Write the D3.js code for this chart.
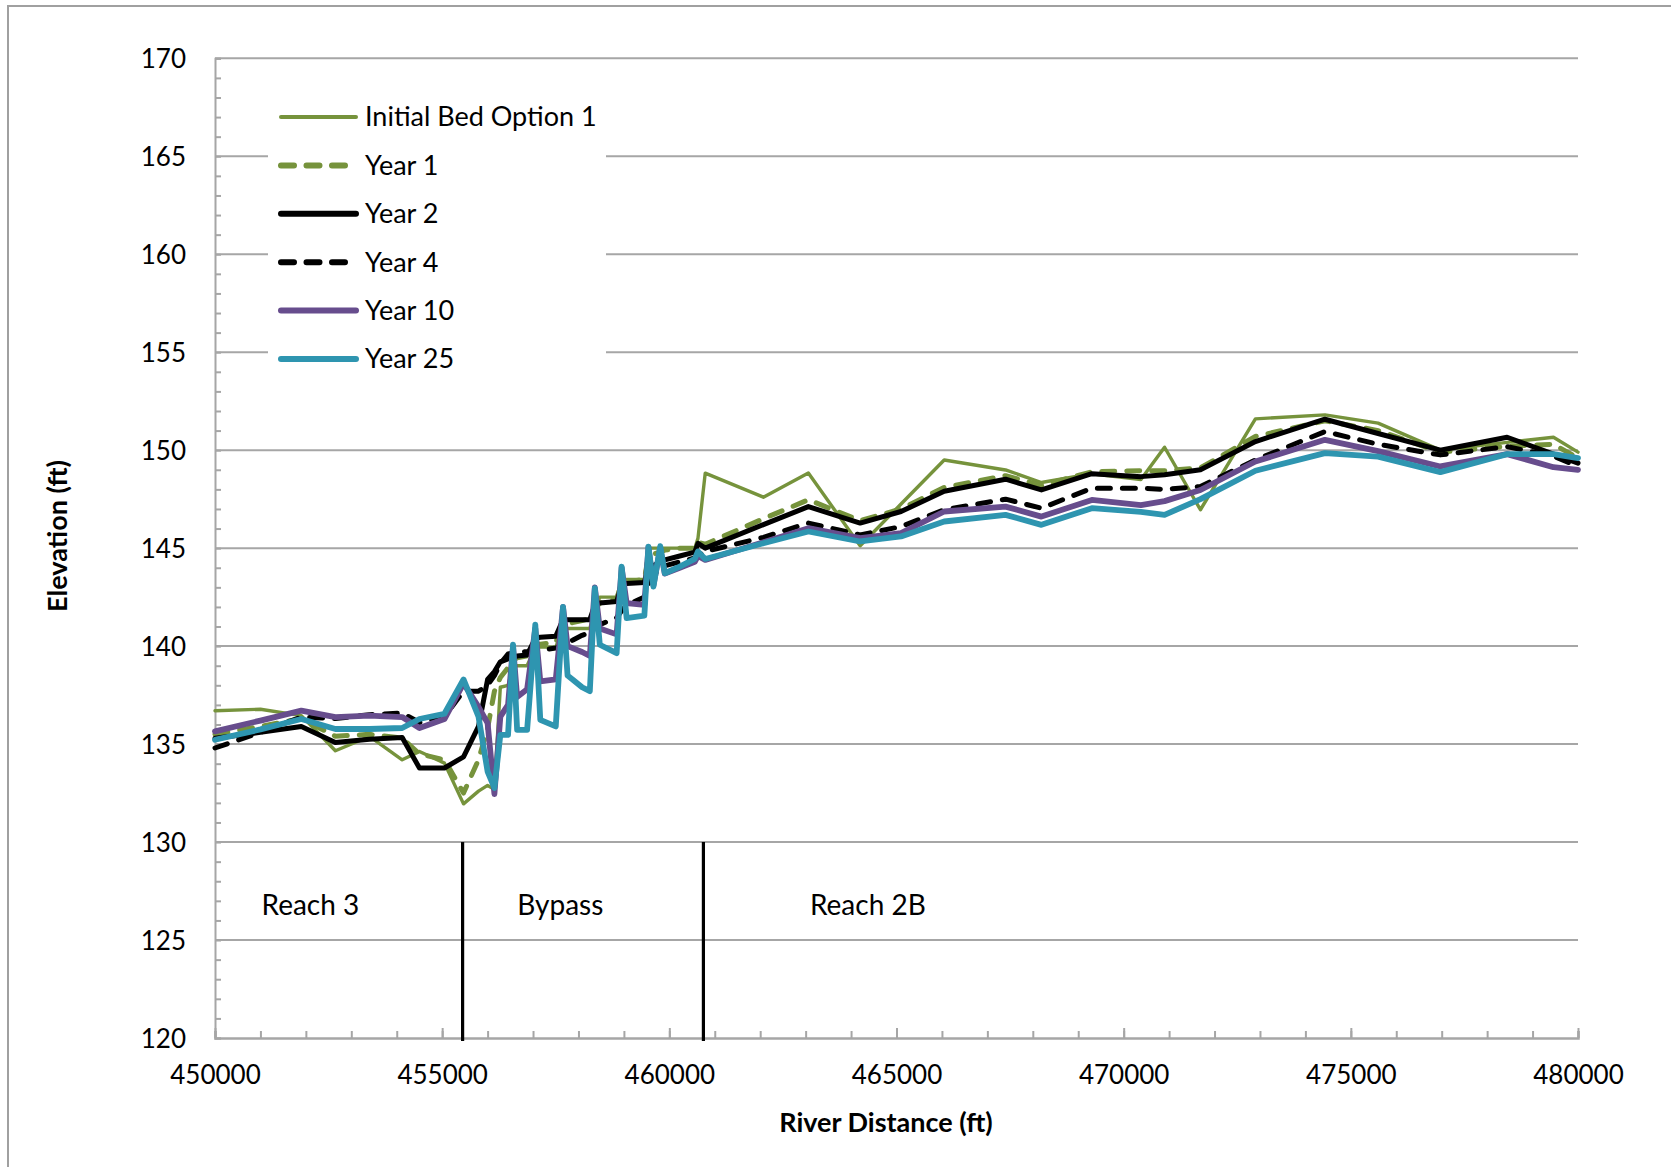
<!DOCTYPE html>
<html>
<head>
<meta charset="utf-8">
<script src="https://cdn.jsdelivr.net/npm/d3@7"></script>
<style>
  body { margin: 0; background: #fff; }
  text { font-family: Lato, "Open Sans", sans-serif; fill: #000; }
</style>
</head>
<body>
<div id="chart"></div>
<script>
// river stations (ft), shared by all series
const stations = [450000, 451000, 451900, 452650, 453400, 454120, 454500, 455050,
  455470, 455800, 456000, 456150, 456280, 456450, 456560, 456650, 456870, 457050, 457160, 457500,
  457660, 457760, 457870, 458080, 458250, 458360, 458470, 458840, 458950, 459060, 459450, 459540,
  459650, 459800, 459900, 460230, 460560, 460630,
  460790, 462070, 463060, 464200, 465100, 466050, 467400, 468190, 469300, 470380, 470900, 471690,
  472900, 474430, 475600, 476970, 478440, 479460, 480000];

const initialBed = [136.7, 136.78, 136.45, 134.66, 135.39, 134.2, 134.62, 134.03,
  131.95, 132.6, 132.89, 132.7, 137.9, 138.0, 139.0, 139.0, 139.0, 139.95, 139.95, 139.95,
  140.9, 140.9, 140.9, 140.9, 140.9, 141.85, 142.5, 142.5, 143.4, 143.4, 143.4, 145.0,
  145.0, 145.0, 145.0, 145.0, 145.0, 145.5,
  148.83, 147.6, 148.83, 145.12, 147.25, 149.5, 148.99, 148.35, 148.8, 148.5, 150.15, 146.96,
  151.6, 151.8, 151.38, 150.0, 150.4, 150.66, 149.9];

const year1 = [135.5, 135.9, 136.3, 135.4, 135.5, 135.3, 134.5, 134.2,
  132.5, 134.2, 135.8, 137.7, 138.4, 138.9, 139.3, 139.4, 139.5, 140.0, 140.1, 140.2,
  141.0, 141.1, 141.2, 141.3, 141.4, 141.9, 142.2, 142.4, 143.2, 143.3, 143.4, 144.6,
  144.7, 144.8, 144.9, 145.0, 145.0, 145.3,
  145.2, 146.5, 147.47, 146.4, 147.0, 148.1, 148.7, 148.2, 148.9, 148.95, 148.95, 149.1,
  150.7, 151.5, 151.0, 149.9, 150.2, 150.3, 149.6];

const year2 = [135.3, 135.6, 135.9, 135.08, 135.25, 135.34, 133.78, 133.78,
  134.35, 135.9, 138.3, 138.7, 139.2, 139.35, 139.4, 139.5, 139.55, 140.4, 140.45, 140.5,
  141.35, 141.35, 141.35, 141.35, 141.35, 142.1, 142.2, 142.28, 143.1, 143.2, 143.25, 144.0,
  144.1, 144.3, 144.4, 144.6, 144.8, 145.25,
  145.0, 146.2, 147.12, 146.28, 146.87, 147.9, 148.52, 147.97, 148.8, 148.65, 148.75, 149.0,
  150.44, 151.58, 150.85, 150.0, 150.66, 149.8, 149.34];

const year4 = [134.8, 135.6, 136.38, 136.3, 136.5, 136.58, 136.1, 136.4,
  137.7, 137.7, 138.0, 138.5, 139.1, 139.6, 139.65, 139.7, 139.72, 139.75, 139.8, 139.9,
  140.1, 140.2, 140.3, 140.55, 140.7, 140.9, 141.1, 141.45, 141.8, 142.1, 142.5, 143.2,
  143.6, 144.0, 144.1, 144.3, 144.5, 144.6,
  144.83, 145.55, 146.28, 145.68, 146.1, 146.96, 147.5, 147.04, 148.06, 148.06, 148.0, 148.15,
  149.5, 150.95, 150.3, 149.76, 150.18, 149.7, 149.17];

const year10 = [135.65, 136.2, 136.71, 136.38, 136.45, 136.38, 135.82, 136.28,
  138.1, 136.9, 136.07, 132.45, 136.4, 137.0, 140.0, 137.4, 137.8, 140.9, 138.2, 138.3,
  142.0, 140.0, 139.9, 139.7, 139.5, 143.0, 140.9, 140.6, 144.0, 142.2, 142.1, 145.05,
  143.1, 145.0, 143.7, 144.0, 144.3, 144.6,
  144.4, 145.3, 146.02, 145.51, 145.77, 146.87, 147.12, 146.61, 147.46, 147.2, 147.4, 147.97,
  149.42, 150.53, 149.95, 149.17, 149.8, 149.13, 149.0];

const year25 = [135.22, 135.75, 136.28, 135.77, 135.77, 135.82, 136.28, 136.55,
  138.3, 136.4, 133.6, 132.76, 135.47, 135.47, 140.07, 135.73, 135.73, 141.1, 136.24, 135.9,
  142.0, 138.5, 138.3, 137.9, 137.7, 142.96, 140.07, 139.64, 144.06, 141.43, 141.55, 145.08,
  143.04, 145.1, 143.72, 144.06, 144.45, 144.83,
  144.45, 145.25, 145.85, 145.34, 145.6, 146.36, 146.7, 146.19, 147.04, 146.85, 146.7, 147.5,
  148.95, 149.85, 149.67, 148.88, 149.8, 149.8, 149.6];

const seriesNames = ["Initial Bed Option 1", "Year 1", "Year 2", "Year 4", "Year 10", "Year 25"];
const seriesValues = [initialBed, year1, year2, year4, year10, year25];

const yTicks = [120, 125, 130, 135, 140, 145, 150, 155, 160, 165, 170];
const xTicks = [450000, 455000, 460000, 465000, 470000, 475000, 480000];

const reachBounds = [455450, 460750];
const reachNames = ["Reach 3", "Bypass", "Reach 2B"];
const reachNameX = [452100, 457600, 464370];
const reachNameElev = 126.8;

// look of each series
const styles = [
  { color: "#76933c", width: 3.4, dash: null },
  { color: "#76933c", width: 5, dash: "13,12" },
  { color: "#000000", width: 5, dash: null },
  { color: "#000000", width: 5, dash: "13,12" },
  { color: "#674d8d", width: 5.8, dash: null },
  { color: "#2e95b0", width: 5.8, dash: null }
];

const W = 1671, H = 1167;
const svg = d3.select("#chart").append("svg")
  .attr("width", W).attr("height", H);

// chart border
svg.append("rect")
  .attr("x", 8).attr("y", 6).attr("width", W + 20).attr("height", H + 20)
  .attr("fill", "#fff").attr("stroke", "#a0a0a0").attr("stroke-width", 2);

const x = d3.scaleLinear().domain([450000, 480000]).range([215, 1578]);
const y = d3.scaleLinear().domain([120, 170]).range([1038, 58.3]);

// gridlines
svg.append("g").selectAll("line")
  .data(yTicks.slice(1))
  .join("line")
  .attr("x1", x(450000)).attr("x2", x(480000))
  .attr("y1", d => y(d)).attr("y2", d => y(d))
  .attr("stroke", "#a6a6a6").attr("stroke-width", 2);

// y axis with minor ticks inside
const yAxis = svg.append("g").attr("transform", `translate(${x(450000)},0)`);
yAxis.call(d3.axisLeft(y).tickValues(d3.range(120, 171, 1)).tickSize(-6).tickFormat(""));
yAxis.selectAll("line").attr("stroke", "#a6a6a6").attr("stroke-width", 2);
yAxis.select(".domain").attr("stroke", "#a6a6a6").attr("stroke-width", 2);

const yLab = svg.append("g").attr("transform", `translate(${x(450000)},0)`)
  .call(d3.axisLeft(y).tickValues(yTicks).tickSize(0).tickPadding(29));
yLab.select(".domain").remove();
yLab.selectAll("text").style("font-size", "26px").attr("dy", "0.35em");

// x axis
const xAxis = svg.append("g").attr("transform", `translate(0,${y(120)})`);
xAxis.call(d3.axisBottom(x).tickValues(d3.range(450000, 480001, 1000)).tickSize(-7).tickFormat(""));
xAxis.selectAll("line").attr("stroke", "#a6a6a6").attr("stroke-width", 2);
xAxis.select(".domain").attr("stroke", "#a6a6a6").attr("stroke-width", 2.5);
const xMajor = svg.append("g").attr("transform", `translate(0,${y(120)})`)
  .call(d3.axisBottom(x).tickValues(xTicks).tickSize(-10).tickFormat(d3.format("d")).tickPadding(28));
xMajor.select(".domain").remove();
xMajor.selectAll("line").attr("stroke", "#a6a6a6").attr("stroke-width", 2);
xMajor.selectAll("text").style("font-size", "26px");

// series
const line = d3.line().x((d, i) => x(stations[i])).y(d => y(d));
svg.append("g").selectAll("path")
  .data(seriesValues)
  .join("path")
  .attr("d", d => line(d))
  .attr("fill", "none")
  .attr("stroke", (d, i) => styles[i].color)
  .attr("stroke-width", (d, i) => styles[i].width)
  .attr("stroke-dasharray", (d, i) => styles[i].dash)
  .attr("stroke-linecap", "round")
  .attr("stroke-linejoin", "round");

// reach boundaries
svg.append("g").selectAll("line")
  .data(reachBounds)
  .join("line")
  .attr("x1", d => x(d)).attr("x2", d => x(d))
  .attr("y1", y(130)).attr("y2", y(120) + 3)
  .attr("stroke", "#000").attr("stroke-width", 3.2);

svg.append("g").selectAll("text")
  .data(reachNames)
  .join("text")
  .attr("x", (d, i) => x(reachNameX[i]))
  .attr("y", y(reachNameElev))
  .attr("dy", "0.35em")
  .attr("text-anchor", "middle")
  .style("font-size", "28px")
  .text(d => d);

// legend
const lg = svg.append("g");
lg.append("rect").attr("x", 268).attr("y", 84).attr("width", 338).attr("height", 300).attr("fill", "#fff");
const rows = lg.selectAll("g.row")
  .data(seriesNames)
  .join("g")
  .attr("class", "row")
  .attr("transform", (d, i) => `translate(0,${117 + i * 48.4})`);
rows.append("line")
  .attr("x1", 281)
  .attr("x2", (d, i) => styles[i].dash ? 347 : 356)
  .attr("stroke", (d, i) => styles[i].color)
  .attr("stroke-width", (d, i) => i === 0 ? 4 : 6)
  .attr("stroke-dasharray", (d, i) => styles[i].dash ? "13,12.5" : null)
  .attr("stroke-linecap", "round");
rows.append("text")
  .attr("x", 365)
  .attr("dy", "0.35em")
  .style("font-size", "27px")
  .text(d => d);

// axis titles
svg.append("text")
  .attr("x", 886).attr("y", 1123)
  .attr("dy", "0.35em")
  .attr("text-anchor", "middle")
  .style("font-size", "27px").style("font-weight", "bold")
  .text("River Distance (ft)");
svg.append("text")
  .attr("transform", "translate(58,536) rotate(-90)")
  .attr("dy", "0.35em")
  .attr("text-anchor", "middle")
  .style("font-size", "27px").style("font-weight", "bold")
  .text("Elevation (ft)");
</script>
</body>
</html>
